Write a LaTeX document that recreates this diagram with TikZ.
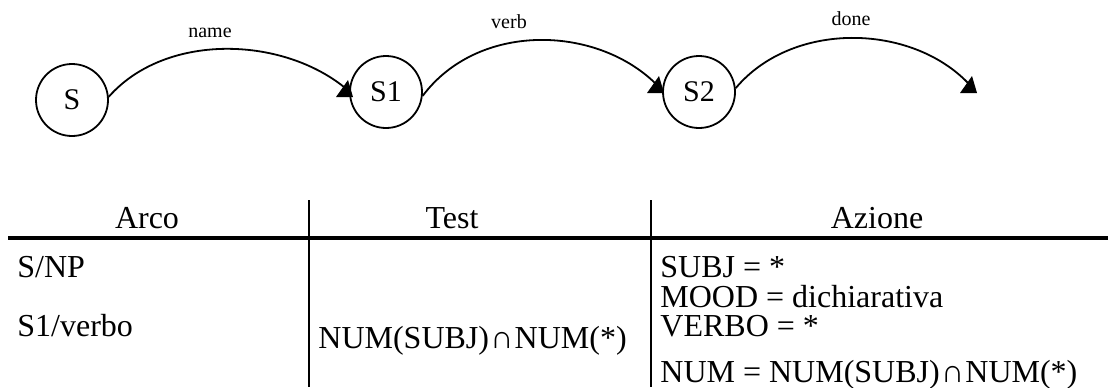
\documentclass[tikz,border=0pt]{standalone}
\usepackage{fontspec}
\setmainfont{Liberation Serif}
\newcommand\capsym{\kern0.04em∩\kern0.04em}
\begin{document}
\begin{tikzpicture}[x=0.5pt,y=-0.5pt,
  state/.style={circle,draw,line width=0.9pt,minimum size=36pt,inner sep=0pt,font=\fontsize{15}{17}\selectfont},
  lbl/.style={anchor=base,inner sep=0pt,font=\fontsize{10}{12}\selectfont},
  arcline/.style={line width=0.9pt},
  tipfill/.style={fill=black},
  head/.style={anchor=base,inner sep=0pt,font=\fontsize{16}{19}\selectfont},
  cell/.style={anchor=base west,inner sep=0pt,font=\fontsize{16}{19}\selectfont},
  hrule/.style={line width=1.9pt},
  vrule/.style={line width=1pt}]
\useasboundingbox (0,0) rectangle (1111,387);
% states
\node[state] (S) at (72,100) {S};
\node[state] (S1) at (386,92) {S1};
\node[state] (S2) at (699,92) {S2};
% arc ends
\coordinate (t1) at (344,87);
\coordinate (t2) at (655,83);
\coordinate (t3) at (968,83);
% arcs
\draw[arcline] (S.5) .. controls (165,33) and (280,36) .. (t1);
\draw[arcline] (S1.-6) .. controls (478,22) and (595,25) .. (t2);
\draw[arcline] (S2.6) .. controls (792,21) and (910,23) .. (t3);
% arrow heads
\fill[tipfill] (t1) ++(-8,10) -- ++(17,0) -- ++(-5,-17) -- cycle;
\fill[tipfill] (t2) ++(-8,10) -- ++(17,0) -- ++(-5,-17) -- cycle;
\fill[tipfill] (t3) ++(-8,10) -- ++(17,0) -- ++(-5,-17) -- cycle;
% arc labels
\node[lbl] (lname) at (210,37) {name};
\node[lbl] (lverb) at (509,28) {verb};
\node[lbl] (ldone) at (851,25) {done};
% table rules
\draw[hrule] (8,238) -- (1108,238);
\draw[vrule] (309,200) -- (309,387);
\draw[vrule] (651,200) -- (651,387);
% header
\node[head] (hArco) at (147,228) {Arco};
\node[head] (hTest) at (452,228) {Test};
\node[head] (hAz) at (877,228) {Azione};
% rows
\node[cell] (r1) at (17,277) {S/NP};
\node[cell] (r2) at (17,336) {S1/verbo};
\node[cell] (t2c) at (318,348) {NUM(SUBJ)\capsym NUM(*)};
\node[cell] (a1) at (660,277) {SUBJ = *};
\node[cell] (a2) at (660,307) {MOOD = dichiarativa};
\node[cell] (a3) at (660,336) {VERBO = *};
\node[cell] (a4) at (660,382) {NUM = NUM(SUBJ)\capsym NUM(*)};
\end{tikzpicture}
\end{document}
